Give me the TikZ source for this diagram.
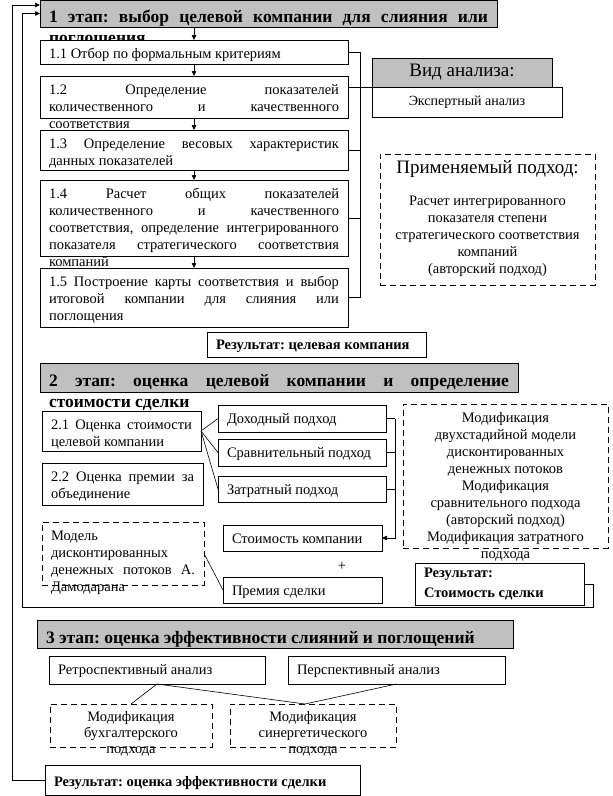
\documentclass[tikz,border=0pt]{standalone}
\usepackage{fontspec}
\setmainfont{Liberation Serif}
\usepackage{tikz}
\usetikzlibrary{arrows.meta,calc}
\definecolor{stageGray}{HTML}{C0C0C0}
\frenchspacing
\tolerance=10000 \hbadness=10000 \vbadness=10000 \hfuzz=20pt \vfuzz=40pt
\newcommand{\boxtext}[4][7pt]{\parbox[t][#3][t]{#2}{\vspace*{#1}\strut #4}}

\begin{document}
\begin{tikzpicture}[x=1pt,y=-1pt,>={Triangle[length=5pt,width=4.5pt]},
  font=\fontsize{14.5}{17}\selectfont,
  every node/.style={inner xsep=9pt,inner ysep=0pt,outer sep=0pt,anchor=north west},
  box/.style={draw,fill=white,line width=0.7pt},
  head/.style={box,fill=stageGray,font=\bfseries\fontsize{17.5}{21}\selectfont},
  dbox/.style={box,dash pattern=on 6pt off 4pt},
  link/.style={line width=0.6pt}]
\useasboundingbox (0,0) rectangle (613,796);
\coordinate (br1) at (360,0);
\coordinate (br2) at (395,0);
\coordinate (br3) at (22,0);
\coordinate (br4) at (12,0);
\coordinate (lp2) at (593,607);
% stage 1
\node[head] (h1) at (40,0) {\boxtext[8pt]{439pt}{27pt}{1 этап: выбор целевой компании для слияния или\linebreak поглощения}};
\node[box] (s11) at (40,40) {\boxtext{290pt}{24pt}{1.1 Отбор по формальным критериям}};
\node[box] (s12) at (40,76) {\boxtext{290pt}{42pt}{1.2 Определение показателей\linebreak количественного и качественного\linebreak соответствия}};
\node[box] (s13) at (40,130) {\boxtext{290pt}{40pt}{1.3 Определение весовых характеристик\linebreak данных показателей}};
\node[box] (s14) at (40,180) {\boxtext{290pt}{76pt}{1.4 Расчет общих показателей\linebreak количественного и качественного\linebreak соответствия, определение интегрированного\linebreak показателя стратегического соответствия\linebreak компаний}};
\node[box] (s15) at (40,268) {\boxtext{290pt}{59pt}{1.5 Построение карты соответствия и выбор\linebreak итоговой компании для слияния или\linebreak поглощения}};
\foreach \a/\b in {h1/s11,s11/s12,s12/s13,s13/s14,s14/s15}
  \draw[->,link] (\b.north |- \a.south) -- (\b.north);
% kind of analysis
\node[box,minimum width=190pt,minimum height=30pt,font=\fontsize{14}{16}\selectfont] (vidb) at (372,87) {Экспертный анализ};
\node[head,minimum width=180pt,minimum height=29pt,font=\fontsize{19}{21}\selectfont] (vidh) at (372,58) {Вид анализа:};
\foreach \n in {s11,s13,s14,s15}
  \draw[link] (\n.east) -- (\n.east -| br1);
\draw[link] (s11.east -| br1) -- (s15.east -| br1);
\draw[link] (s12.east |- vidh.south) -- (vidh.south west);
% approach used
\node[dbox] (appr) at (380,154) {\boxtext[6pt]{197pt}{131pt}{\centering{\fontsize{19}{21}\selectfont Применяемый подход:\par}\vspace{15pt}Расчет интегрированного\\ показателя степени\\ стратегического соответствия\\ компаний\\ (авторский подход)}};
\node[box,font=\bfseries\fontsize{14.5}{17}\selectfont] (res1) at (207,332) {\boxtext[6pt]{201pt}{25pt}{Результат: целевая компания}};
% stage 2
\node[head] (h2) at (40,363) {\boxtext[8.5pt]{460pt}{29pt}{2 этап: оценка целевой компании и определение\linebreak стоимости сделки}};
\node[box] (s21) at (42,411) {\boxtext{141pt}{40pt}{2.1 Оценка стоимости\linebreak целевой компании}};
\node[box] (s22) at (42,463) {\boxtext{143pt}{42pt}{2.2 Оценка премии за\linebreak объединение}};
\node[dbox] (dcf) at (42,522) {\boxtext{144pt}{63pt}{Модель\linebreak дисконтированных\linebreak денежных потоков А.\linebreak Дамодарана}};
\node[box] (inc) at (218,405) {\boxtext{150pt}{27pt}{Доходный подход}};
\node[box] (cmp) at (218,439) {\boxtext{150pt}{27pt}{Сравнительный подход}};
\node[box] (cst) at (218,476) {\boxtext{150pt}{26pt}{Затратный подход}};
\node[box] (val) at (223,525) {\boxtext{141pt}{26pt}{Стоимость компании}};
\node[anchor=center] (plus) at (342,566) {+};
\node[box] (prem) at (223,577) {\boxtext{141pt}{26pt}{Премия сделки}};
\foreach \n in {inc,cmp,cst}{
  \draw[link] (s21.east) -- (\n.west);
  \draw[link] (\n.east) -- (\n.east -| br2);
}
\draw[->,link] (inc.east -| br2) -- (val.east -| br2) -- (val.east);
\draw[link] (dcf.east) -- (prem.west);
\node[dbox] (mods) at (403,404) {\boxtext{187pt}{144pt}{\centering Модификация\\ двухстадийной модели\\ дисконтированных\\ денежных потоков\\ Модификация\\ сравнительного подхода\\ (авторский подход)\\ Модификация затратного\\ подхода}};
\node[box,font=\bfseries\fontsize{14.5}{20}\selectfont] (res2) at (415,563) {\boxtext[0pt]{151pt}{42pt}{Результат:\\ Стоимость сделки}};
% stage 3
\node[head] (h3) at (37,620) {\boxtext[8.5pt]{458pt}{28pt}{3 этап: оценка эффективности слияний и поглощений}};
\node[box] (retro) at (49,656) {\boxtext{198pt}{28pt}{Ретроспективный анализ}};
\node[box] (persp) at (288,656) {\boxtext{199pt}{28pt}{Перспективный анализ}};
\node[dbox,font=\fontsize{14.5}{16}\selectfont] (acc) at (50,704) {\boxtext[6pt]{144pt}{43pt}{\centering Модификация\\ бухгалтерского\\ подхода}};
\node[dbox,font=\fontsize{14.5}{16}\selectfont] (syn) at (230,704) {\boxtext[6pt]{148pt}{43pt}{\centering Модификация\\ синергетического\\ подхода}};
\draw[link] (retro.south) -- (acc.north);
\draw[link] (retro.south) -- ([xshift=-8pt]syn.north);
\draw[link] (persp.south) -- ([xshift=-8pt]syn.north);
\node[box,font=\bfseries\fontsize{14.5}{17}\selectfont] (res3) at (45,765) {\boxtext[10pt]{297pt}{30pt}{Результат: оценка эффективности сделки}};
% feedback loops
\coordinate (in1) at ([yshift=-5pt]h1.north west);
\draw[->,link] (res2.east) -- (res2.east -| lp2) -- (lp2) -- (lp2 -| br3) -- (br3 |- h1.west) -- (h1.west);
\draw[->,link] (res3.west) -- (res3.west -| br4) -- (br4 |- in1) -- (in1);
\end{tikzpicture}
\end{document}
